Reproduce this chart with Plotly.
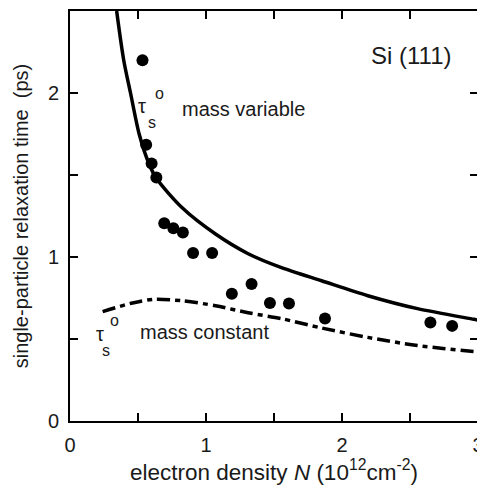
import plotly.graph_objects as go

# measured points
n_meas = [0.533, 0.56, 0.60, 0.635, 0.693, 0.76, 0.83, 0.905, 1.045, 1.19, 1.335, 1.47, 1.61, 1.875, 2.65, 2.81]
tau_meas = [2.20, 1.685, 1.57, 1.485, 1.206, 1.175, 1.15, 1.024, 1.024, 0.776, 0.835, 0.72, 0.717, 0.625, 0.60, 0.58]

# mass variable (solid)
n_var = [0.343, 0.395, 0.445, 0.51, 0.58, 0.635, 0.825, 1.07, 1.31, 1.555, 1.85, 2.19, 2.555, 2.97, 3.0]
tau_var = [2.5, 2.2, 2.0, 1.745, 1.57, 1.48, 1.30, 1.14, 1.02, 0.935, 0.855, 0.764, 0.685, 0.62, 0.615]

# mass constant (dash-dot)
n_const = [0.24, 0.46, 0.62, 0.825, 1.07, 1.31, 1.555, 1.85, 2.19, 2.555, 2.97, 3.0]
tau_const = [0.667, 0.72, 0.742, 0.733, 0.703, 0.66, 0.624, 0.567, 0.51, 0.46, 0.424, 0.422]

FONT = "Liberation Sans, Arial, sans-serif"
INK = "#1a1a1a"

fig = go.Figure()
fig.add_trace(go.Scatter(x=n_var, y=tau_var, mode="lines",
                         line=dict(color="black", width=3.5, shape="spline", smoothing=0.8)))
fig.add_trace(go.Scatter(x=n_const, y=tau_const, mode="lines",
                         line=dict(color="black", width=3.5, shape="spline", smoothing=0.8,
                                   dash="13px,5px,5px,5px")))
fig.add_trace(go.Scatter(x=n_meas, y=tau_meas, mode="markers",
                         marker=dict(color="black", size=12)))

ann = [
    dict(x=2.51, y=2.23, text="Si (111)", size=24),
    dict(x=0.533, y=1.92, text="τ", size=20),
    dict(x=0.60, y=1.82, text="s", size=16),
    dict(x=0.66, y=2.0, text="o", size=16),
    dict(x=0.81, y=1.90, text="mass variable", size=20, xanchor="left"),
    dict(x=0.22, y=0.53, text="τ", size=20),
    dict(x=0.265, y=0.43, text="s", size=16),
    dict(x=0.325, y=0.615, text="o", size=16),
    dict(x=0.50, y=0.54, text="mass constant", size=20, xanchor="left"),
]
for a in ann:
    fig.add_annotation(x=a["x"], y=a["y"], text=a["text"], showarrow=False,
                       xanchor=a.get("xanchor", "center"), yanchor="middle",
                       font=dict(family=FONT, size=a["size"], color=INK))

axis_common = dict(showline=True, linecolor="black", linewidth=2, mirror="ticks",
                   ticks="inside", ticklen=8, tickwidth=2, tickcolor="black",
                   showgrid=False, zeroline=False, ticklabelstandoff=5,
                   ticklabeloverflow="allow",
                   tickfont=dict(family=FONT, size=20, color=INK))

fig.update_xaxes(range=[0, 3], tickvals=[0, 0.5, 1, 1.5, 2, 2.5, 3],
                 ticktext=["0", "", "1", "", "2", "", "3"],
                 title=dict(text="electron density <i>N</i> (10<sup>12</sup>cm<sup>-2</sup>)",
                            font=dict(family=FONT, size=22.5, color=INK), standoff=9),
                 **axis_common)
fig.update_yaxes(range=[0, 2.5], tickvals=[0, 0.5, 1, 1.5, 2, 2.5],
                 ticktext=["0", "", "1", "", "2", ""],
                 title=dict(text="single-particle relaxation time&nbsp; (ps)",
                            font=dict(family=FONT, size=20, color=INK), standoff=14),
                 **axis_common)

# page body adds an 8px offset, so the figure is sized to land the axes where the reference has them
fig.update_layout(width=477, height=482, showlegend=False,
                  margin=dict(l=62, r=4, t=1, b=69),
                  plot_bgcolor="white", paper_bgcolor="white")

fig.write_html("out.html")
